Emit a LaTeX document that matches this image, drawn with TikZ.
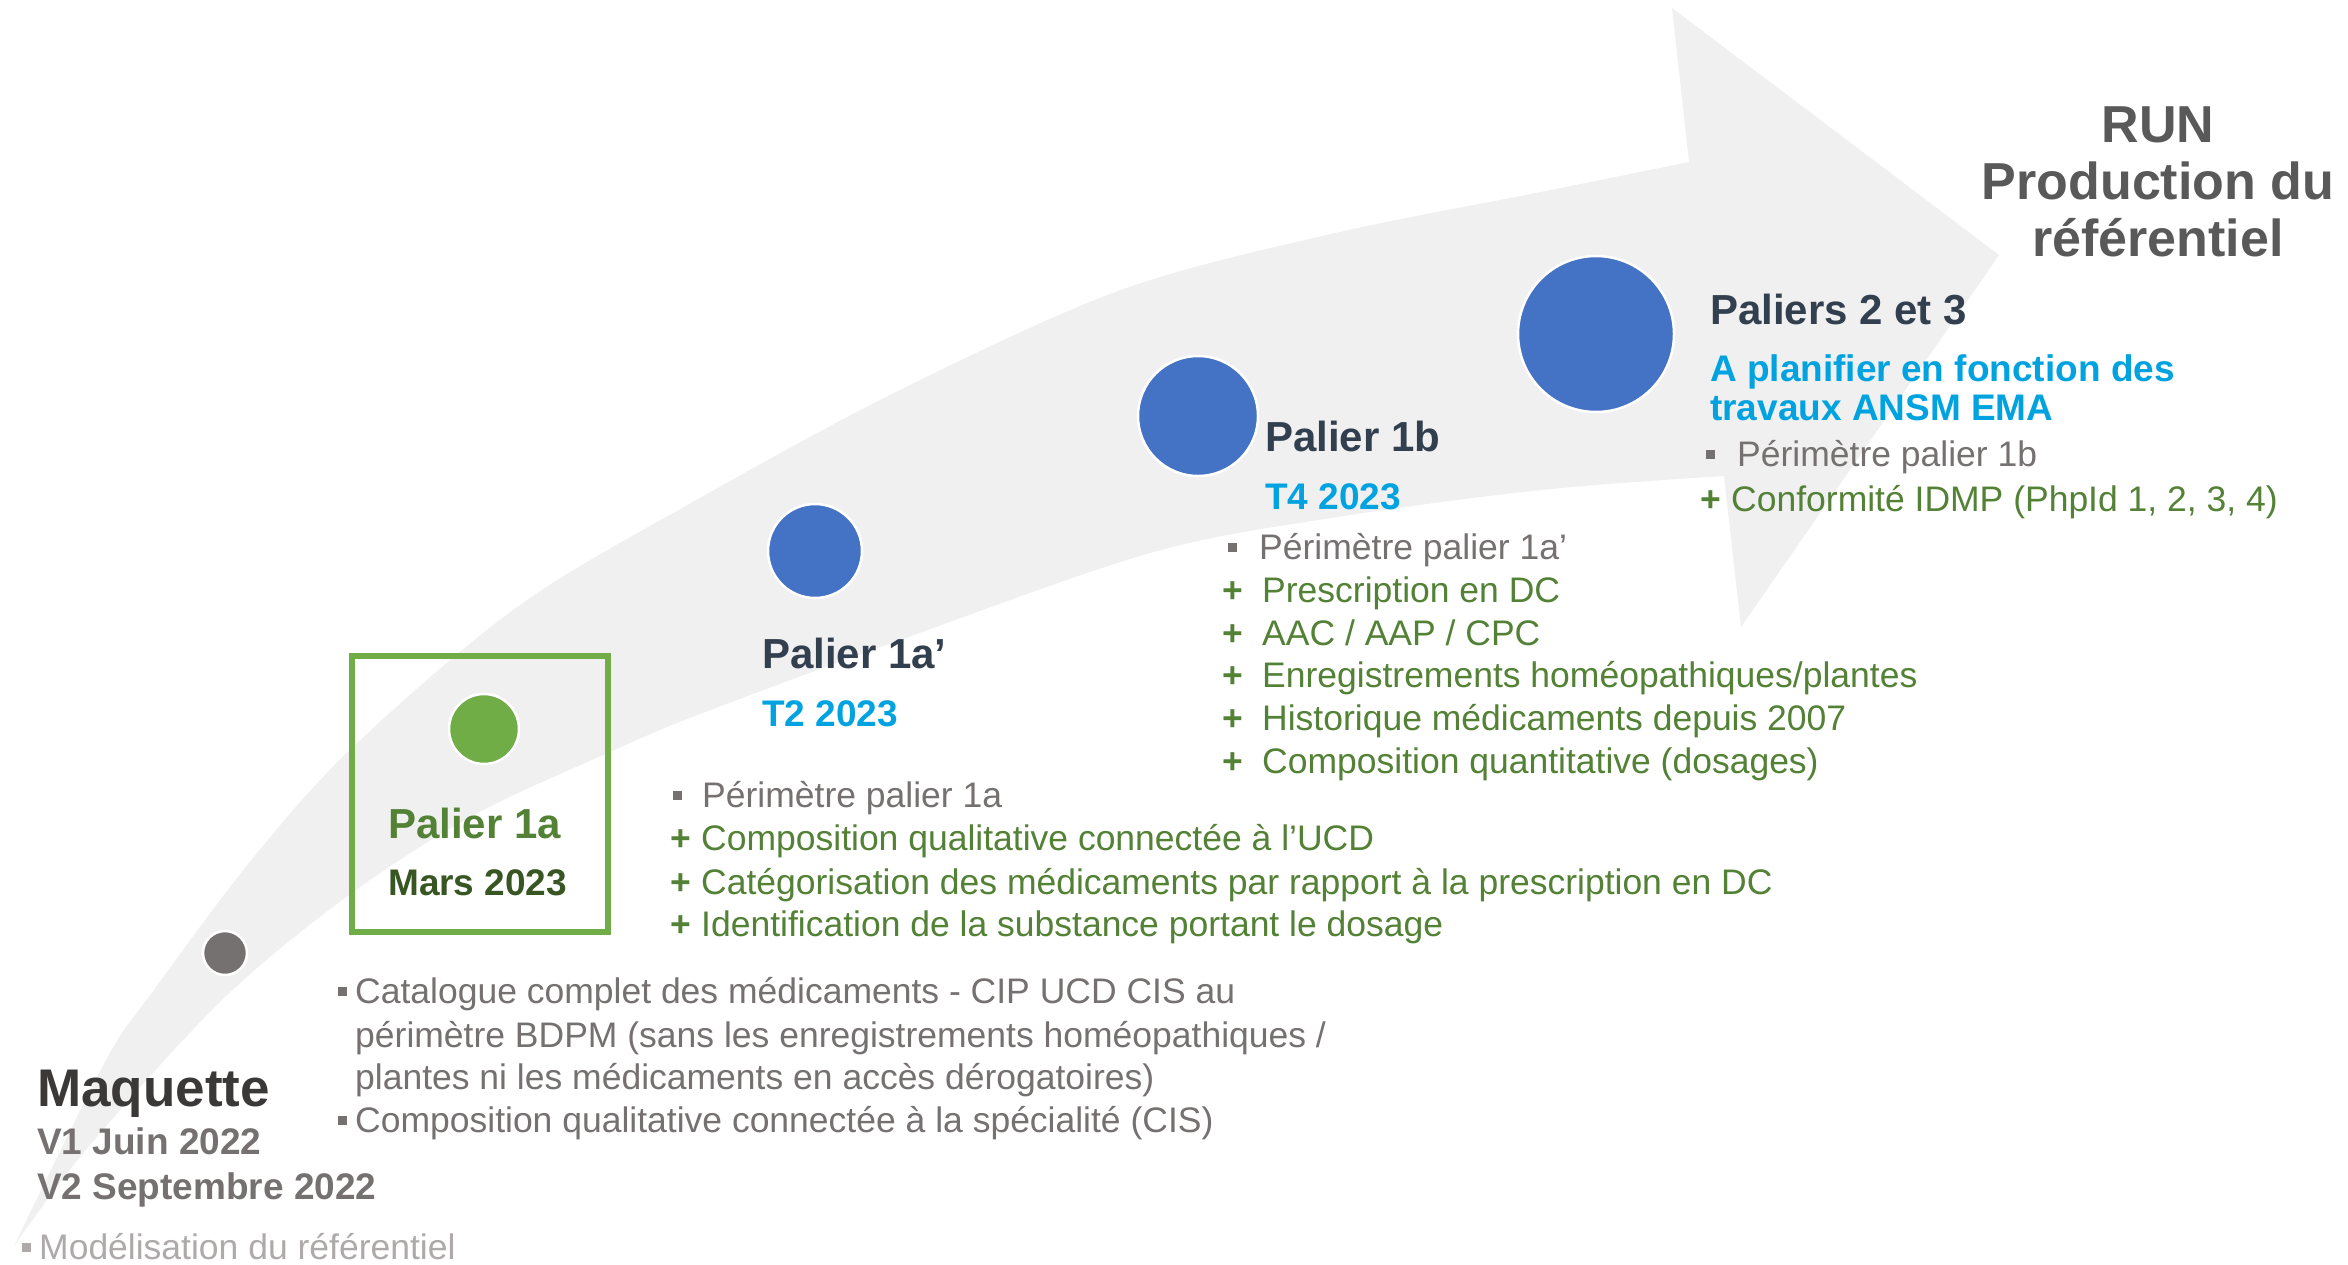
\documentclass[tikz,border=0pt]{standalone}
\usepackage{fontspec}
\setmainfont{Liberation Sans}
\definecolor{navy}{HTML}{323F4F}
\definecolor{cyanT}{HTML}{00A3E0}
\definecolor{greenT}{HTML}{538135}
\definecolor{dgreenT}{HTML}{375623}
\definecolor{grayT}{HTML}{767171}
\definecolor{lgrayT}{HTML}{AEAAAA}
\definecolor{maqT}{HTML}{3B3838}
\definecolor{runT}{HTML}{595959}
\definecolor{arrowC}{HTML}{F0F0F0}
\definecolor{dotBlue}{HTML}{4472C4}
\definecolor{dotGreen}{HTML}{70AD47}
\definecolor{dotGray}{HTML}{767171}
\newcommand{\sqbul}[2]{\llap{\textcolor{#1}{\rule[7pt]{9.5pt}{9.5pt}}\hspace{#2}}}
\newcommand{\plusb}[1]{\llap{\textbf{+}\hspace{#1}}}
\begin{document}
\begin{tikzpicture}[x=1pt,y=-1pt,
  txt/.style={inner sep=0pt, anchor=base west},
  body/.style={txt, font=\fontsize{35.5}{42.8}\selectfont},
  grayline/.style={body, text=grayT},
  greenline/.style={body, text=greenT},
  title/.style={txt, font=\fontsize{42}{48}\selectfont\bfseries, text=navy},
  datecyan/.style={txt, font=\fontsize{37}{40}\selectfont\bfseries, text=cyanT},
  dot/.style={circle, draw=white, line width=2.5pt, inner sep=0pt},
  runline/.style={inner sep=0pt, anchor=base, font=\fontsize{52}{57}\selectfont\bfseries, text=runT}]
\fill[white] (0,0) rectangle (2348,1264);
\useasboundingbox (0,0) rectangle (2348,1264);
% big curved arrow
\fill[arrowC] plot[smooth, tension=0.55] coordinates {(14,1246) (105,1062) (151,994) (253,858) (355,745) (520,605) (700,498) (900,390) (1121,290) (1331,234) (1541,192) (1689,162)}
  -- (1672,8) -- (1999,255) -- (1741,627) -- (1724,476)
  -- plot[smooth, tension=0.55] coordinates {(1724,476) (1541,490) (1331,518) (1150,553) (900,640) (700,714) (610,752) (474,815) (349,895) (223,999) (89,1146) (14,1246)} -- cycle;
% green frame
\node[draw=dotGreen, line width=6pt, minimum width=256.5pt, minimum height=276pt, inner sep=0pt] (box) at (479.75,794) {};
% dots
\node[dot, fill=dotGray, minimum size=44pt] (d0) at (225,953) {};
\node[dot, fill=dotGreen, minimum size=70pt] (d1) at (484,729) {};
\node[dot, fill=dotBlue, minimum size=94pt] (d2) at (815,551) {};
\node[dot, fill=dotBlue, minimum size=120pt] (d3) at (1198,416) {};
\node[dot, fill=dotBlue, minimum size=156pt] (d4) at (1596,334) {};
% RUN
\node[runline] (run1) at (2158,142) {RUN};
\node[runline] (run2) at (2158,199) {Production du};
\node[runline] (run3) at (2158,256) {référentiel};
% Paliers 2 et 3
\node[title] (p23) at (1710,324) {Paliers 2 et 3};
\node[datecyan] (p23a) at (1710,381) {A planifier en fonction des};
\node[datecyan] (p23b) at (1710,420) {travaux ANSM EMA};
\node[grayline] (p23c) at (1737,466) {\sqbul{grayT}{22pt}Périmètre palier 1b};
\node[greenline] (p23d) at (1731,511) {\plusb{10pt}Conformité IDMP (PhpId 1, 2, 3, 4)};
% Palier 1b
\node[title] (p1b) at (1265,451) {Palier 1b};
\node[datecyan] (p1bd) at (1265,509) {T4 2023};
\node[grayline] (p1b1) at (1259,559) {\sqbul{grayT}{22pt}Périmètre palier 1a’};
\node[greenline] (p1b2) at (1262,602) {\plusb{19pt}Prescription en DC};
\node[greenline] (p1b3) at (1262,645) {\plusb{19pt}AAC / AAP / CPC};
\node[greenline] (p1b4) at (1262,687) {\plusb{19pt}Enregistrements homéopathiques/plantes};
\node[greenline] (p1b5) at (1262,730) {\plusb{19pt}Historique médicaments depuis 2007};
\node[greenline] (p1b6) at (1262,773) {\plusb{19pt}Composition quantitative (dosages)};
% Palier 1a'
\node[title] (p1ap) at (762,668) {Palier 1a’};
\node[datecyan] (p1apd) at (762,726) {T2 2023};
\node[grayline] (p1ap1) at (702,807) {\sqbul{grayT}{20pt}Périmètre palier 1a};
\node[greenline] (p1ap2) at (701,850) {\plusb{10pt}Composition qualitative connectée à l’UCD};
\node[greenline] (p1ap3) at (701,894) {\plusb{10pt}Catégorisation des médicaments par rapport à la prescription en DC};
\node[greenline] (p1ap4) at (701,936) {\plusb{10pt}Identification de la substance portant le dosage};
% Palier 1a
\node[txt, font=\fontsize{42}{48}\selectfont\bfseries, text=greenT] (p1a) at (388,838) {Palier 1a};
\node[txt, font=\fontsize{37}{40}\selectfont\bfseries, text=dgreenT] (p1ad) at (388,895) {Mars 2023};
% Catalogue list
\node[grayline] (cat1) at (355,1003) {\sqbul{grayT}{8pt}Catalogue complet des médicaments - CIP UCD CIS au};
\node[grayline] (cat2) at (355,1047) {périmètre BDPM (sans les enregistrements homéopathiques /};
\node[grayline] (cat3) at (355,1089) {plantes ni les médicaments en accès dérogatoires)};
\node[grayline] (cat4) at (355,1132) {\sqbul{grayT}{8pt}Composition qualitative connectée à la spécialité (CIS)};
% Maquette
\node[txt, font=\fontsize{53}{58}\selectfont\bfseries, text=maqT] (maq) at (37,1106) {Maquette};
\node[txt, font=\fontsize{37}{40}\selectfont\bfseries, text=grayT] (maq1) at (37,1154) {V1 Juin 2022};
\node[txt, font=\fontsize{37}{40}\selectfont\bfseries, text=grayT] (maq2) at (37,1199) {V2 Septembre 2022};
\node[body, text=lgrayT] (mod) at (39,1259) {\sqbul{lgrayT}{8pt}Modélisation du référentiel};
\end{tikzpicture}
\end{document}
